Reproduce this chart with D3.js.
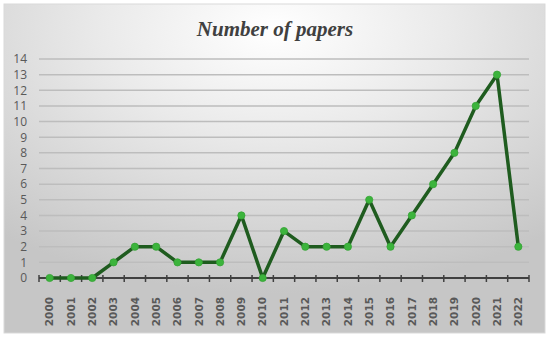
<!DOCTYPE html>
<html>
<head>
<meta charset="utf-8">
<script src="https://cdn.jsdelivr.net/npm/d3@7"></script>
<style>
  body { margin: 0; background: #fff; }
  svg { display: block; }
</style>
</head>
<body>
<div id="chart"></div>
<script>
// data
var years = ["2000","2001","2002","2003","2004","2005","2006","2007","2008","2009","2010",
             "2011","2012","2013","2014","2015","2016","2017","2018","2019","2020","2021","2022"];
var papers = [0,0,0,1,2,2,1,1,1,4,0,3,2,2,2,5,2,4,6,8,11,13,2];
var yTicks = d3.range(0, 15);
var chartTitle = "Number of papers";

var W = 550, H = 339;
var box = {x: 4, y: 4, w: 541, h: 329};
var margin = {top: 59, right: 21, bottom: 61, left: 39};

var svg = d3.select("#chart").append("svg")
	.attr("width", W)
	.attr("height", H);

var defs = svg.append("defs");
var grad = defs.append("radialGradient")
	.attr("id", "bg")
	.attr("cx", "50%").attr("cy", "8%")
	.attr("r", "80%");
grad.append("stop").attr("offset", "0%").attr("stop-color", "#ffffff");
grad.append("stop").attr("offset", "40%").attr("stop-color", "#eaeaea");
grad.append("stop").attr("offset", "100%").attr("stop-color", "#c6c6c6");

svg.append("rect")
	.attr("x", box.x).attr("y", box.y)
	.attr("width", box.w).attr("height", box.h)
	.attr("fill", "url(#bg)")
	.attr("stroke", "#d9d9d9")
	.attr("stroke-width", 1);

var x = d3.scaleBand()
	.domain(years)
	.range([margin.left, W - margin.right])
	.padding(0);

var y = d3.scaleLinear()
	.domain([0, 14])
	.range([H - margin.bottom, margin.top]);

// gridlines
svg.append("g")
	.selectAll("line")
	.data(yTicks.filter(function(d){ return d > 0; }))
	.enter()
	.append("line")
	.attr("x1", margin.left)
	.attr("x2", W - margin.right)
	.attr("y1", function(d){ return y(d); })
	.attr("y2", function(d){ return y(d); })
	.attr("stroke", "#bdbdbd")
	.attr("stroke-width", 1.5);

// y labels
svg.append("g")
	.selectAll("text")
	.data(yTicks)
	.enter()
	.append("text")
	.attr("x", 27)
	.attr("y", function(d){ return y(d); })
	.attr("dy", "0.36em")
	.attr("text-anchor", "end")
	.attr("font-family", "'Open Sans', 'Noto Sans', sans-serif")
	.attr("font-size", 12)
	.attr("fill", "#595959")
	.text(function(d){ return d; });

// x axis line + crossing ticks at category edges
var xAxis = svg.append("g");
xAxis.append("line")
	.attr("x1", margin.left).attr("x2", W - margin.right)
	.attr("y1", y(0)).attr("y2", y(0))
	.attr("stroke", "#404040")
	.attr("stroke-width", 1.8);

var edges = years.map(function(d){ return x(d); }).concat([x(years[years.length-1]) + x.bandwidth()]);
xAxis.selectAll(".edge")
	.data(edges)
	.enter()
	.append("line")
	.attr("x1", function(d){ return d; })
	.attr("x2", function(d){ return d; })
	.attr("y1", y(0) - 3)
	.attr("y2", y(0) + 4)
	.attr("stroke", "#404040")
	.attr("stroke-width", 1.5);

xAxis.selectAll("text")
	.data(years)
	.enter()
	.append("text")
	.attr("transform", function(d){
		return "translate(" + (x(d) + x.bandwidth()/2) + "," + (y(0) + 19) + ") rotate(-90)";
	})
	.attr("dy", "0.36em")
	.attr("text-anchor", "end")
	.attr("font-family", "'DejaVu Sans', sans-serif")
	.attr("font-weight", "bold")
	.attr("font-size", 10.5)
	.attr("fill", "#595959")
	.text(function(d){ return d; });

// line + markers
var line = d3.line()
	.x(function(d, i){ return x(years[i]) + x.bandwidth()/2; })
	.y(function(d){ return y(d); });

svg.append("path")
	.datum(papers)
	.attr("d", line)
	.attr("fill", "none")
	.attr("stroke", "#1f5c1f")
	.attr("stroke-width", 3.5)
	.attr("stroke-linejoin", "round");

svg.append("g")
	.selectAll("circle")
	.data(papers)
	.enter()
	.append("circle")
	.attr("cx", function(d, i){ return x(years[i]) + x.bandwidth()/2; })
	.attr("cy", function(d){ return y(d); })
	.attr("r", 3.6)
	.attr("fill", "#3cb43c")
	.attr("stroke", "#35a335")
	.attr("stroke-width", 0.8);

// title
svg.append("text")
	.attr("x", 275)
	.attr("y", 36)
	.attr("text-anchor", "middle")
	.attr("font-family", "'Liberation Serif', 'Times New Roman', serif")
	.attr("font-style", "italic")
	.attr("font-weight", "bold")
	.attr("font-size", 21)
	.attr("fill", "#404040")
	.text(chartTitle);
</script>
</body>
</html>
